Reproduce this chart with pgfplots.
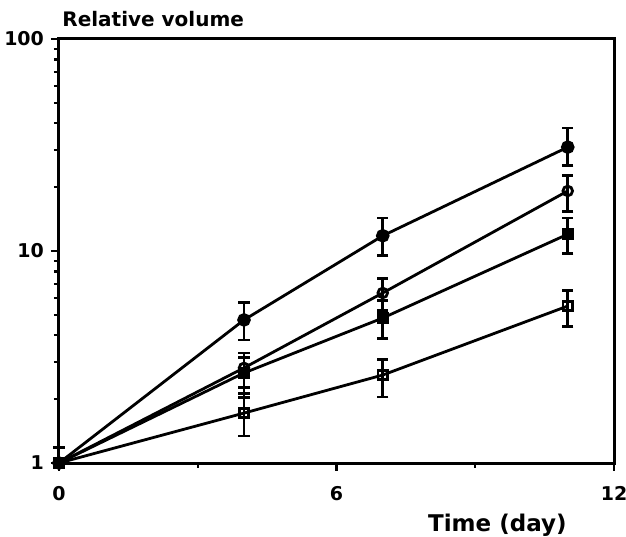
\documentclass[border=0pt]{standalone}
\usepackage{fontspec}
\setmainfont{DejaVu Sans}
\usepackage{pgfplots}
\usepackage{pgfplotstable}
\pgfplotsset{compat=1.18}

% x  y  err+ err-
\pgfplotstableread{
x y ep em
0 1 0.18 0
4 4.73 0.97 0.93
7 11.8 2.5 2.3
11 30.9 7.1 5.6
}\fcircle
\pgfplotstableread{
x y ep em
0 1 0 0
4 2.81 0.49 0.54
7 6.34 1.11 1.1
11 19.2 3.5 3.9
}\ocircle
\pgfplotstableread{
x y ep em
0 1 0 0
4 2.66 0.49 0.63
7 4.83 1.0 0.96
11 12.0 2.3 2.3
}\fsquare
\pgfplotstableread{
x y ep em
0 1 0 0
4 1.72 0.4 0.38
7 2.60 0.48 0.55
11 5.5 1.0 1.1
}\osquare

\begin{document}
\begin{tikzpicture}
\useasboundingbox (-29.5pt,-36.5pt) rectangle (283.5pt,231.5pt);
\begin{axis}[
    scale only axis, width=277.5pt, height=212pt,
    ymode=log, xmin=0, xmax=12, ymin=1, ymax=100,
    xtick={0,6,12}, xticklabels={0,6,12}, minor xtick={3,9},
    ytick={1,10,100}, yticklabels={1,10,100},
    xtick pos=left, ytick pos=left, tick align=outside,
    major tick length=4pt, minor tick length=2.5pt,
    axis line style={line width=1.5pt},
    every tick/.style={line width=1.1pt, black},
    tick label style={font=\fontsize{9.5}{11}\selectfont\bfseries},
    xticklabel style={yshift=-4pt},
    clip=false,
    every axis plot/.append style={line width=1.4pt, black},
    error bars/y dir=both, error bars/y explicit,
    error bars/error bar style={line width=1.4pt, solid},
    error bars/error mark options={rotate=90, mark size=2.8pt, line width=1.4pt},
]
\addplot[mark=*, mark size=2.7pt, mark options={solid, fill=black}]
  table[x=x, y=y, y error plus=ep, y error minus=em] {\fcircle};
\addplot[mark=o, mark size=2.4pt, mark options={solid, fill=white}]
  table[x=x, y=y, y error plus=ep, y error minus=em] {\ocircle};
\addplot[mark=square*, mark size=2.4pt, mark options={solid, fill=black}]
  table[x=x, y=y, y error plus=ep, y error minus=em] {\fsquare};
\addplot[mark=square, mark size=2.4pt, mark options={solid, fill=white}]
  table[x=x, y=y, y error plus=ep, y error minus=em] {\osquare};
\end{axis}
\node[anchor=base west, inner sep=0pt, font=\fontsize{10}{12}\selectfont\bfseries] at (1.5pt,218pt) {Relative volume};
\node[anchor=base east, inner sep=0pt, font=\fontsize{11.5}{13}\selectfont\bfseries] at (254pt,-34pt) {Time (day)};
\end{tikzpicture}
\end{document}
